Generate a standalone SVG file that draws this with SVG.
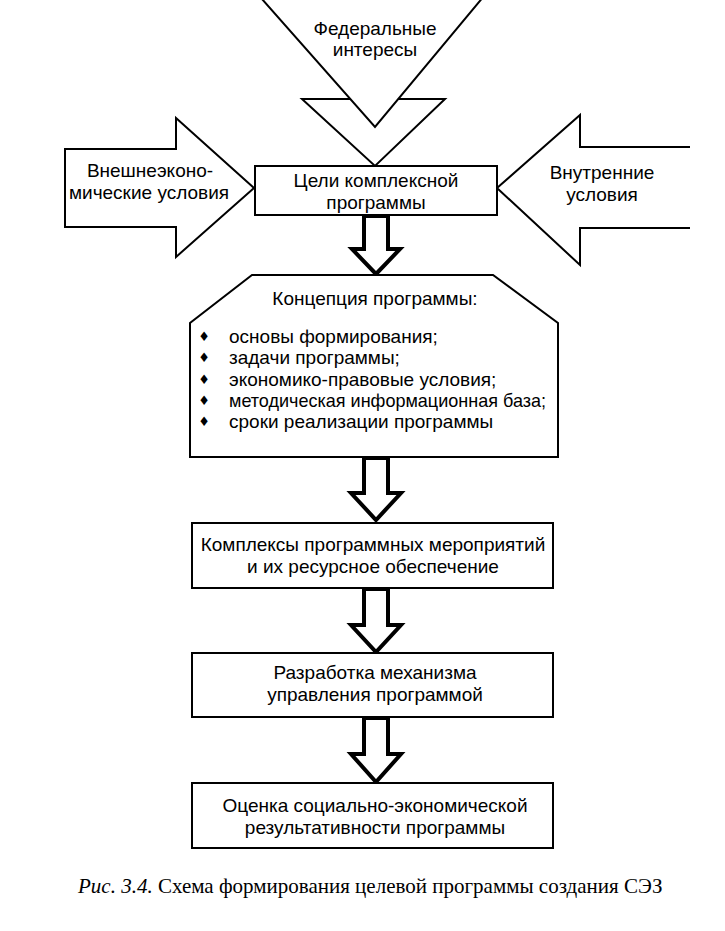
<svg xmlns="http://www.w3.org/2000/svg" width="725" height="931" viewBox="0 0 725 931">
<style>
.bx{fill:#fff;stroke:#000;stroke-width:2;stroke-linejoin:miter}
.ar{fill:#fff;stroke:#000;stroke-width:4;stroke-linejoin:miter}
.t{font-family:"Liberation Sans",Arial,sans-serif;font-size:19px;fill:#000;text-anchor:middle}
.tl{font-family:"Liberation Sans",Arial,sans-serif;font-size:19px;fill:#000}
.bl{font-family:"DejaVu Sans",sans-serif;font-size:13px;fill:#000;text-anchor:middle}
.cap{font-family:"Liberation Serif","Times New Roman",serif;font-size:21px;fill:#000}
</style>
<rect width="725" height="931" fill="#fff"/>
<g id="federal">
<polygon class="bx" points="302,99 445,99 375,166"/>
<polygon class="bx" points="254,-10 489,-10 375,127"/>
<text class="t" x="375" y="35">Федеральные</text>
<text class="t" x="375" y="56">интересы</text>
</g>
<g id="external">
<polygon class="bx" points="65,149 176,149 176,118 254,188 176,257 176,227 65,227"/>
<text class="t" x="150" y="177">Внешнеэконо-</text>
<text class="t" x="149" y="199">мические условия</text>
</g>
<g id="internal">
<polyline class="bx" points="690,147 580,147 580,115 497,188 580,265 580,228 690,228"/>
<text class="t" x="602" y="179">Внутренние</text>
<text class="t" x="602" y="201">условия</text>
</g>
<g id="goals">
<rect class="bx" x="255" y="166" width="242" height="49"/>
<text class="t" x="376" y="187">Цели комплексной</text>
<text class="t" x="376" y="209">программы</text>
</g>
<g id="connectors">
<polygon class="ar" points="364,216 388,216 388,249 400,249 376,274 352,249 364,249"/>
<polygon class="ar" points="364,458 388,458 388,493 401,493 376,520 351,493 364,493"/>
<polygon class="ar" points="364,589 388,589 388,625 401,625 376,652 351,625 364,625"/>
<polygon class="ar" points="364,718 388,718 388,754 401,754 376,782 351,754 364,754"/>
</g>
<g id="concept">
<polygon class="bx" points="252,275 493,275 558,323 558,457 190,457 190,323"/>
<text class="t" x="375" y="305">Концепция программы:</text>
<text class="bl" x="204" y="341">♦</text>
<text class="bl" x="204" y="362">♦</text>
<text class="bl" x="204" y="384">♦</text>
<text class="bl" x="204" y="405">♦</text>
<text class="bl" x="204" y="426">♦</text>
<text class="tl" x="229" y="343">основы формирования;</text>
<text class="tl" x="229" y="364">задачи программы;</text>
<text class="tl" x="229" y="386">экономико-правовые условия;</text>
<text class="tl" x="229" y="407" textLength="317" lengthAdjust="spacingAndGlyphs">методическая информационная база;</text>
<text class="tl" x="229" y="428">сроки реализации программы</text>
</g>
<g id="complexes">
<rect class="bx" x="192" y="523" width="361" height="65"/>
<text class="t" x="373" y="551">Комплексы программных мероприятий</text>
<text class="t" x="373" y="573">и их ресурсное обеспечение</text>
</g>
<g id="mechanism">
<rect class="bx" x="192" y="653" width="361" height="64"/>
<text class="t" x="375" y="679">Разработка механизма</text>
<text class="t" x="375" y="701">управления программой</text>
</g>
<g id="evaluation">
<rect class="bx" x="192" y="783" width="361" height="65"/>
<text class="t" x="375" y="812">Оценка социально-экономической</text>
<text class="t" x="375" y="834">результативности программы</text>
</g>
<g id="caption">
<text class="cap" x="78" y="893"><tspan font-style="italic">Рис. 3.4.</tspan> Схема формирования целевой программы создания СЭЗ</text>
</g>
</svg>
